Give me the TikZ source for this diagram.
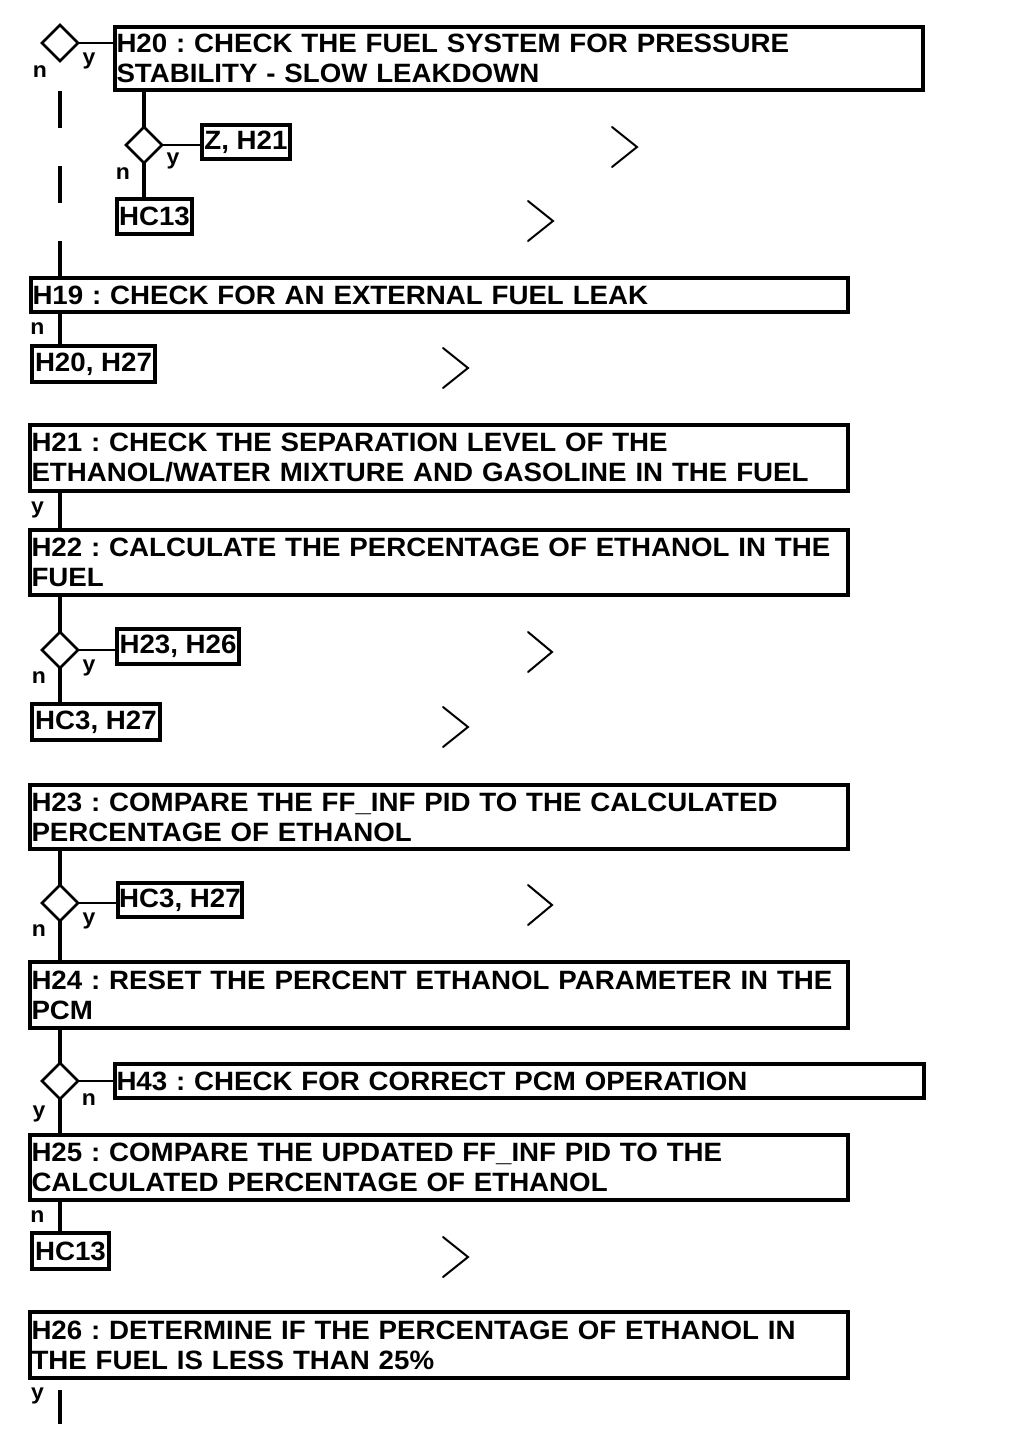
\documentclass[tikz,border=0pt]{standalone}
\usepackage{fontspec}
\newfontfamily\boxfont{Liberation Sans Bold}[FakeStretch=1.045]
\usetikzlibrary{shapes.geometric}
\frenchspacing
\begin{document}
\begin{tikzpicture}[x=1pt,y=-1pt,
  bigbox/.style={draw, rectangle, line width=4.5pt, anchor=north west, outer sep=0pt,
    inner xsep=1.5pt, inner ysep=0pt, align=left,
    font=\boxfont\fontsize{26.5}{30}\selectfont},
  smallbox/.style={draw, rectangle, line width=4.5pt, anchor=north west, outer sep=0pt,
    inner sep=0pt, font=\boxfont\fontsize{26.5}{30}\selectfont},
  dec/.style={draw, shape=diamond, line width=2.5pt, minimum size=36pt, inner sep=0pt, outer sep=0pt},
  thickline/.style={line width=4.5pt},
  thinline/.style={line width=2.5pt},
  lbl/.style={anchor=base, inner sep=0pt, font=\boxfont\fontsize{22}{24}\selectfont},
  chev/.style={line width=2pt, line cap=round, line join=miter}
]
\useasboundingbox[fill=white] (0,0) rectangle (1024,1446);

% boxes
\node[bigbox, text width=805pt, minimum height=63pt] (H20) at (115,27)
  {H20 : CHECK THE FUEL SYSTEM FOR PRESSURE\\STABILITY - SLOW LEAKDOWN};
\node[smallbox, minimum width=88pt, minimum height=34pt] (ZH21) at (202,125) {Z, H21};
\node[smallbox, minimum width=75pt, minimum height=35pt] (HC13a) at (117,199) {HC13};
\node[bigbox, text width=814pt, minimum height=34pt] (H19) at (31,278)
  {H19 : CHECK FOR AN EXTERNAL FUEL LEAK};
\node[smallbox, minimum width=123pt, minimum height=36pt] (H2027) at (32,346) {H20, H27};
\node[bigbox, text width=815pt, minimum height=66pt] (H21) at (30,425)
  {H21 : CHECK THE SEPARATION LEVEL OF THE\\ETHANOL/WATER MIXTURE AND GASOLINE IN THE FUEL};
\node[bigbox, text width=815pt, minimum height=65pt] (H22) at (30,530)
  {H22 : CALCULATE THE PERCENTAGE OF ETHANOL IN THE\\FUEL};
\node[smallbox, minimum width=122pt, minimum height=35pt] (H2326) at (117,629) {H23, H26};
\node[smallbox, minimum width=128pt, minimum height=36pt] (HC3a) at (32,704) {HC3, H27};
\node[bigbox, text width=815pt, minimum height=64pt] (H23) at (30,785)
  {H23 : COMPARE THE FF\_INF PID TO THE CALCULATED\\PERCENTAGE OF ETHANOL};
\node[smallbox, minimum width=124pt, minimum height=34pt] (HC3b) at (118,883) {HC3, H27};
\node[bigbox, text width=815pt, minimum height=66pt] (H24) at (30,962)
  {H24 : RESET THE PERCENT ETHANOL PARAMETER IN THE\\PCM};
\node[bigbox, text width=806pt, minimum height=34pt] (H43) at (115,1064)
  {H43 : CHECK FOR CORRECT PCM OPERATION};
\node[bigbox, text width=815pt, minimum height=65pt] (H25) at (30,1135)
  {H25 : COMPARE THE UPDATED FF\_INF PID TO THE\\CALCULATED PERCENTAGE OF ETHANOL};
\node[smallbox, minimum width=77pt, minimum height=36pt] (HC13b) at (32,1233) {HC13};
\node[bigbox, text width=815pt, minimum height=66pt] (H26) at (30,1312)
  {H26 : DETERMINE IF THE PERCENTAGE OF ETHANOL IN\\THE FUEL IS LESS THAN 25\%};

% decisions
\node[dec] (D1) at (60,43) {};
\node[dec] (D2) at (144,145) {};
\node[dec] (D3) at (60,650) {};
\node[dec] (D4) at (60,903) {};
\node[dec] (D5) at (60,1081) {};

\coordinate (tailA) at (60,1390);
\coordinate (tailB) at (60,1424);

% connectors
\draw[thinline] (D1.east) -- (D1.east -| H20.west);
\draw[thickline, dash pattern=on 37.5pt off 37.5pt] (D1 |- H19.north) -- (D1.south);
\draw[thickline] (D2 |- H20.south) -- (D2.north);
\draw[thinline] (D2.east) -- (D2.east -| ZH21.west);
\draw[thickline] (D2.south) -- (D2 |- HC13a.north);
\draw[thickline] (D1 |- H19.south) -- (D1 |- H2027.north);
\draw[thickline] (D3 |- H21.south) -- (D3 |- H22.north);
\draw[thickline] (D3 |- H22.south) -- (D3.north);
\draw[thinline] (D3.east) -- (D3.east -| H2326.west);
\draw[thickline] (D3.south) -- (D3 |- HC3a.north);
\draw[thickline] (D4 |- H23.south) -- (D4.north);
\draw[thinline] (D4.east) -- (D4.east -| HC3b.west);
\draw[thickline] (D4.south) -- (D4 |- H24.north);
\draw[thickline] (D5 |- H24.south) -- (D5.north);
\draw[thinline] (D5.east) -- (D5.east -| H43.west);
\draw[thickline] (D5.south) -- (D5 |- H25.north);
\draw[thickline] (D5 |- H25.south) -- (D5 |- HC13b.north);
\draw[thickline] (tailA) -- (tailB);

% labels
\node[lbl] (l1y) at (89,64) {y};
\node[lbl] (l1n) at (40,77) {n};
\node[lbl] (l2y) at (173,164) {y};
\node[lbl] (l2n) at (123,179) {n};
\node[lbl] (l19n) at (37.5,334) {n};
\node[lbl] (l21y) at (37.5,513) {y};
\node[lbl] (l3y) at (89,671) {y};
\node[lbl] (l3n) at (39,683) {n};
\node[lbl] (l4y) at (89,924) {y};
\node[lbl] (l4n) at (39,936) {n};
\node[lbl] (l5n) at (89,1105) {n};
\node[lbl] (l5y) at (39,1117) {y};
\node[lbl] (l25n) at (37.5,1222) {n};
\node[lbl] (l26y) at (37.5,1399) {y};

% chevrons
\draw[chev] (612,127) -- (637,147) -- (612,167);
\draw[chev] (528,201) -- (553,221) -- (528,241);
\draw[chev] (443,348) -- (468,368) -- (443,388);
\draw[chev] (528,632) -- (552,652) -- (528,672);
\draw[chev] (443,707) -- (468,727) -- (443,747);
\draw[chev] (528,885) -- (552,905) -- (528,925);
\draw[chev] (443,1237) -- (468,1257) -- (443,1277);
\end{tikzpicture}
\end{document}
